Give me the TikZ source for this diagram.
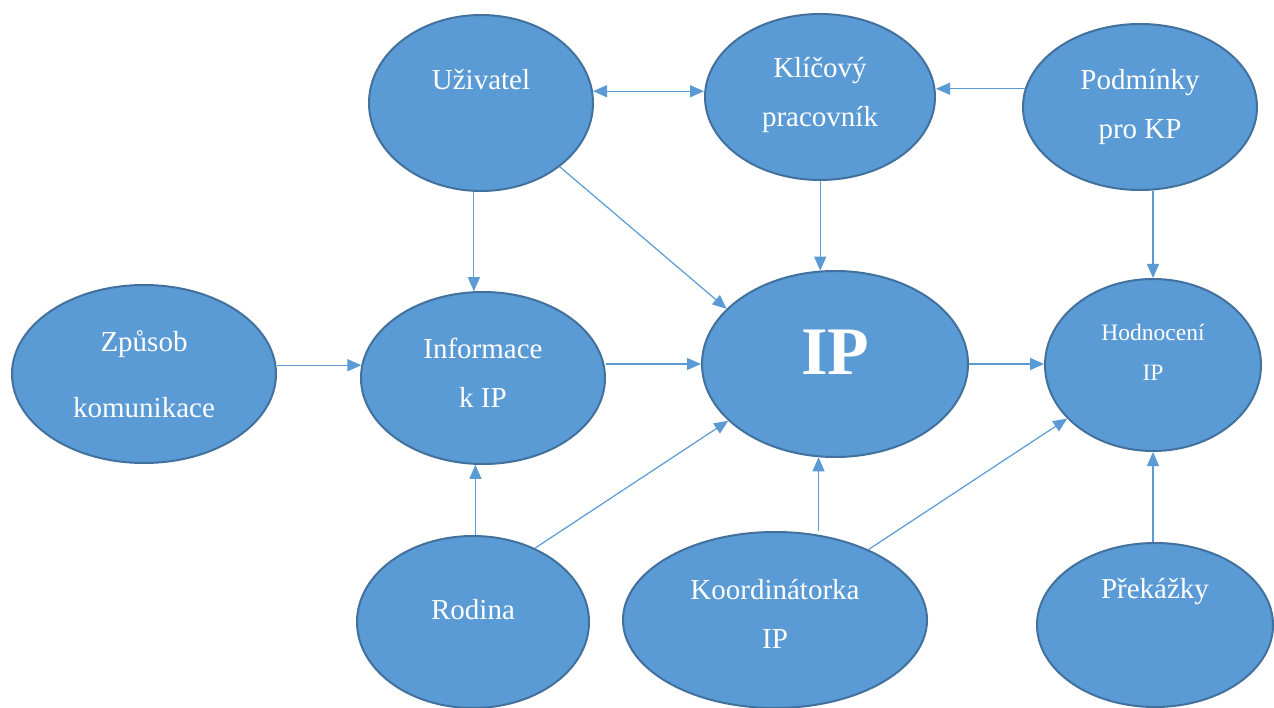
\documentclass[tikz,border=0pt]{standalone}
\usepackage{fontspec}
\setmainfont{Liberation Serif}
\usetikzlibrary{shapes.geometric,arrows.meta}
\definecolor{bfill}{HTML}{5B9BD5}
\definecolor{bdraw}{HTML}{41719C}
\tikzset{
  bub/.style={ellipse, fill=bfill, draw=bdraw, line width=2pt, inner sep=0pt},
  txt/.style={text=white, align=center, font=\fontsize{29}{49}\selectfont},
  arr/.style={draw=bfill, line width=1.2pt, -{Triangle[length=14pt,width=12pt]}},
  darr/.style={draw=bfill, line width=1.2pt, {Triangle[length=14pt,width=12pt]}-{Triangle[length=14pt,width=12pt]}}
}
\begin{document}
\begin{tikzpicture}[x=1pt,y=-1pt]
\clip (0,0) rectangle (1274,708);
\fill[white] (0,0) rectangle (1274,708);

\node[bub, minimum width=224pt, minimum height=176pt,
  label={[txt,yshift=23pt]center:Uživatel}] (u) at (481,103) {};
\node[bub, minimum width=230pt, minimum height=166pt,
  label={[txt,yshift=2pt]center:Klíčový\\pracovník}] (k) at (820,97) {};
\node[bub, minimum width=234pt, minimum height=166pt,
  label={[txt]center:Podmínky\\pro KP}] (p) at (1140,107) {};
\node[bub, minimum width=264pt, minimum height=178pt,
  label={[txt,font=\fontsize{29}{66}\selectfont]center:Způsob\\komunikace}] (z) at (144,374) {};
\node[bub, minimum width=244pt, minimum height=172pt,
  label={[txt,yshift=5pt]center:Informace\\k IP}] (i) at (483,378) {};
\node[bub, minimum width=266pt, minimum height=186pt,
  label={[txt,yshift=12pt,font=\bfseries\fontsize{68}{70}\selectfont]center:IP}] (ip) at (835,364) {};
\node[bub, minimum width=216pt, minimum height=172pt,
  label={[txt,yshift=13pt,font=\fontsize{23.5}{40}\selectfont]center:Hodnocení\\IP}] (h) at (1153,365) {};
\node[bub, minimum width=232pt, minimum height=172pt,
  label={[txt,yshift=12pt]center:Rodina}] (r) at (473,622) {};
\node[bub, minimum width=304pt, minimum height=176pt,
  label={[txt,yshift=6pt]center:Koordinátorka\\IP}] (c) at (775,620) {};
\node[bub, minimum width=236pt, minimum height=164pt,
  label={[txt,yshift=33pt]center:Překážky}] (pr) at (1155,625) {};

% connectors
\draw[darr] (u.6) -- (u.6 -| k.west);
\draw[arr] (p.171) -- (p.171 -| k.east);
\draw[arr] (i.96 |- u.south) -- (i.96);
\draw[arr] (u.-39) -- (ip.153);
\draw[arr] (ip.99 |- k.south) -- (ip.99);
\draw[arr] (h.north |- p.south) -- (h.north);
\draw[arr] (z.east |- i.174) -- (i.174);
\draw[arr] (i.east |- ip.west) -- (ip.west);
\draw[arr] (ip.east) -- (ip.east -| h.west);
\draw[arr] (i.-95 |- r.north) -- (i.-95);
\draw[arr] (r.50) -- (ip.208);
\draw[arr] (ip.-100 |- c.north) -- (ip.-100);
\draw[arr] (c.37) -- (h.212);
\draw[arr] (h.south |- pr.north) -- (h.south);
\end{tikzpicture}
\end{document}
